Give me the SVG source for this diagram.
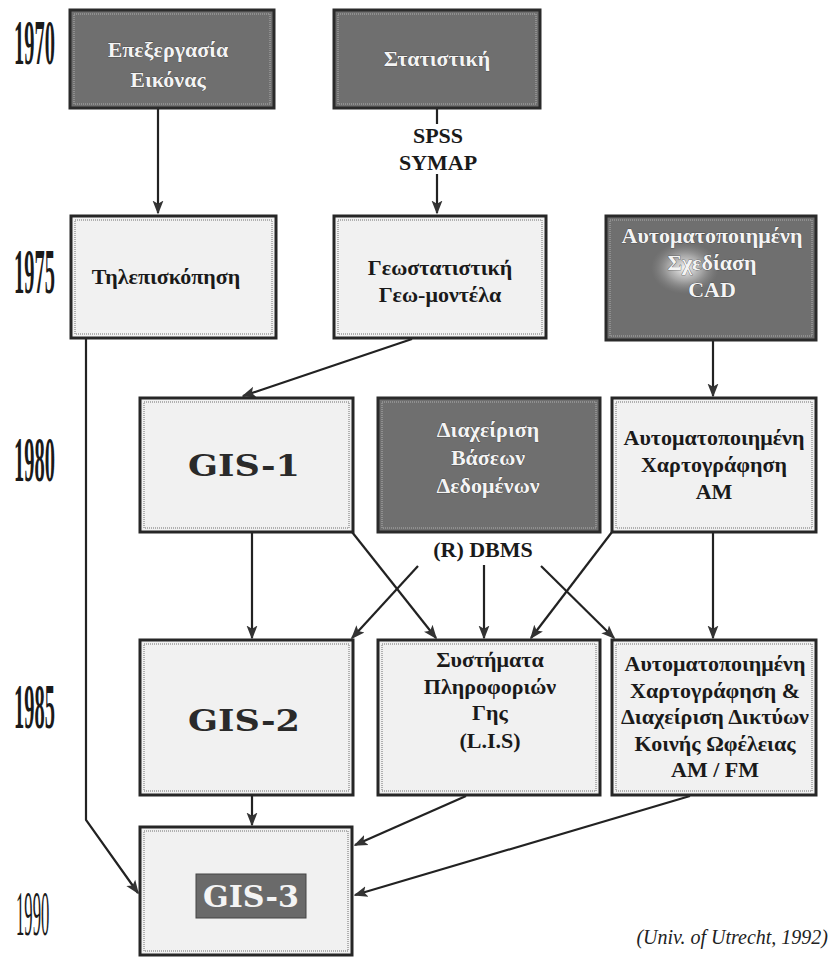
<svg xmlns="http://www.w3.org/2000/svg" width="832" height="968" viewBox="0 0 832 968">
<style>
.light{fill:#f1f1f1;stroke:#262626;stroke-width:3}
.dark{fill:#6f6f6f;stroke:#2a2a2a;stroke-width:3}
.inner{fill:none;stroke:#9a9a9a;stroke-width:1.5;stroke-dasharray:1 1}
.t{font-family:"Liberation Serif","DejaVu Serif",serif;font-weight:bold;font-size:22px;fill:#1a1a1a;text-anchor:middle}
.w{fill:#f4f4f4;stroke:#333;stroke-width:0.6;paint-order:stroke}
.gis{font-family:"DejaVu Serif","Liberation Serif",serif;font-weight:bold;font-size:29px;text-anchor:middle;fill:#2a2a2a}
.yr{font-family:"Liberation Serif",serif;font-weight:bold;font-size:64px;fill:#1a1a1a}
.c{stroke:#222;stroke-width:2.2;fill:none}
.cap{font-family:"Liberation Serif",serif;font-style:italic;font-size:20px;fill:#222;text-anchor:end}
</style>
<defs>
<marker id="ah" markerUnits="userSpaceOnUse" markerWidth="14" markerHeight="18" refX="16" refY="7" orient="auto" viewBox="0 0 18 14">
<path d="M0,0 L18,7 L0,14 L4,7 Z" fill="#333"/>
</marker>
<radialGradient id="glare" cx="0.5" cy="0.5" r="0.5">
<stop offset="0" stop-color="#ffffff" stop-opacity="0.95"/>
<stop offset="0.5" stop-color="#dddddd" stop-opacity="0.5"/>
<stop offset="1" stop-color="#999" stop-opacity="0"/>
</radialGradient>
</defs>
<rect width="832" height="968" fill="#ffffff"/>

<g id="years">
<text class="yr" transform="translate(14,64) scale(0.32,1)">1970</text>
<text class="yr" transform="translate(14,293) scale(0.32,1)">1975</text>
<text class="yr" transform="translate(14,481) scale(0.32,1)">1980</text>
<text class="yr" transform="translate(14,728) scale(0.32,1)">1985</text>
<text class="yr" transform="translate(16,935) scale(0.26,1)" style="font-weight:normal">1990</text>
</g>

<g id="connectors">
<line class="c" x1="158" y1="108" x2="158" y2="213" marker-end="url(#ah)"/>
<line class="c" x1="437" y1="108" x2="437" y2="124"/>
<line class="c" x1="437" y1="174" x2="437" y2="213" marker-end="url(#ah)"/>
<line class="c" x1="412" y1="339" x2="243" y2="396" marker-end="url(#ah)"/>
<line class="c" x1="713" y1="341" x2="713" y2="396" marker-end="url(#ah)"/>
<polyline class="c" points="86,338 86,820 138,893" marker-end="url(#ah)"/>
<line class="c" x1="252" y1="532" x2="252" y2="638" marker-end="url(#ah)"/>
<line class="c" x1="352" y1="532" x2="436" y2="638" marker-end="url(#ah)"/>
<line class="c" x1="418" y1="566" x2="352" y2="638" marker-end="url(#ah)"/>
<line class="c" x1="484" y1="565" x2="484" y2="638" marker-end="url(#ah)"/>
<line class="c" x1="541" y1="566" x2="614" y2="638" marker-end="url(#ah)"/>
<line class="c" x1="612" y1="532" x2="531" y2="638" marker-end="url(#ah)"/>
<line class="c" x1="713" y1="532" x2="713" y2="638" marker-end="url(#ah)"/>
<line class="c" x1="252" y1="795" x2="252" y2="825" marker-end="url(#ah)"/>
<line class="c" x1="466" y1="796" x2="355" y2="845" marker-end="url(#ah)"/>
<line class="c" x1="690" y1="796" x2="355" y2="895" marker-end="url(#ah)"/>
</g>

<g id="n-epexergasia">
<rect class="dark" x="70" y="10" width="204" height="98"/>
<rect class="inner" x="74" y="14" width="196" height="90"/>
<text class="t w" x="168" y="57">Επεξεργασία</text>
<text class="t w" x="168" y="87">Εικόνας</text>
</g>

<g id="n-statistiki">
<rect class="dark" x="334" y="10" width="206" height="98"/>
<rect class="inner" x="338" y="14" width="198" height="90"/>
<text class="t w" x="437" y="66">Στατιστική</text>
</g>

<g id="l-spss">
<text class="t" x="438" y="143">SPSS</text>
<text class="t" x="438" y="170">SYMAP</text>
</g>

<g id="n-tilepiskopisi">
<rect class="light" x="71" y="216" width="205" height="122"/>
<rect class="inner" x="75" y="220" width="197" height="114"/>
<text class="t" x="166" y="284">Τηλεπισκόπηση</text>
</g>

<g id="n-geostatistiki">
<rect class="light" x="334" y="216" width="212" height="122"/>
<rect class="inner" x="338" y="220" width="204" height="114"/>
<text class="t" x="440" y="275">Γεωστατιστική</text>
<text class="t" x="440" y="302">Γεω-μοντέλα</text>
</g>

<g id="n-cad">
<rect class="dark" x="606" y="216" width="210" height="124"/>
<rect class="inner" x="610" y="220" width="202" height="116"/>
<ellipse cx="685" cy="268" rx="34" ry="26" fill="url(#glare)"/>
<text class="t w" x="712" y="243">Αυτοματοποιημένη</text>
<text class="t w" x="712" y="270">Σχεδίαση</text>
<text class="t w" x="712" y="297">CAD</text>
</g>

<g id="n-gis1">
<rect class="light" x="140" y="398" width="213" height="134"/>
<rect class="inner" x="144" y="402" width="205" height="126"/>
<text class="gis" x="244" y="476" textLength="112" lengthAdjust="spacingAndGlyphs">GIS-1</text>
</g>

<g id="n-dbms">
<rect class="dark" x="378" y="398" width="222" height="134"/>
<rect class="inner" x="382" y="402" width="214" height="126"/>
<text class="t w" x="488" y="437">Διαχείριση</text>
<text class="t w" x="488" y="465">Βάσεων</text>
<text class="t w" x="488" y="493">Δεδομένων</text>
</g>

<g id="n-am">
<rect class="light" x="612" y="398" width="204" height="134"/>
<rect class="inner" x="616" y="402" width="196" height="126"/>
<text class="t" x="714" y="445">Αυτοματοποιημένη</text>
<text class="t" x="714" y="472">Χαρτογράφηση</text>
<text class="t" x="714" y="499">AM</text>
</g>

<g id="l-rdbms">
<text class="t" x="483" y="557">(R) DBMS</text>
</g>

<g id="n-gis2">
<rect class="light" x="140" y="640" width="213" height="155"/>
<rect class="inner" x="144" y="644" width="205" height="147"/>
<text class="gis" x="244" y="731" textLength="112" lengthAdjust="spacingAndGlyphs">GIS-2</text>
</g>

<g id="n-lis">
<rect class="light" x="378" y="640" width="222" height="155"/>
<rect class="inner" x="382" y="644" width="214" height="147"/>
<text class="t" x="490" y="667">Συστήματα</text>
<text class="t" x="490" y="694">Πληροφοριών</text>
<text class="t" x="490" y="720">Γης</text>
<text class="t" x="490" y="748">(L.I.S)</text>
</g>

<g id="n-amfm">
<rect class="light" x="612" y="640" width="204" height="155"/>
<rect class="inner" x="616" y="644" width="196" height="147"/>
<text class="t" x="715" y="671">Αυτοματοποιημένη</text>
<text class="t" x="715" y="698">Χαρτογράφηση &amp;</text>
<text class="t" x="715" y="724" textLength="188" lengthAdjust="spacingAndGlyphs">Διαχείριση Δικτύων</text>
<text class="t" x="715" y="751">Κοινής Ωφέλειας</text>
<text class="t" x="715" y="777">AM / FM</text>
</g>

<g id="n-gis3">
<rect class="light" x="140" y="827" width="212" height="128"/>
<rect class="inner" x="144" y="831" width="204" height="120"/>
<rect x="196" y="874" width="110" height="44" fill="#6a6a6a" stroke="#444" stroke-width="1"/>
<text class="gis" x="251" y="907" textLength="96" lengthAdjust="spacingAndGlyphs" style="fill:#f4f4f4">GIS-3</text>
</g>

<text class="cap" x="828" y="944">(Univ. of Utrecht, 1992)</text>
</svg>
